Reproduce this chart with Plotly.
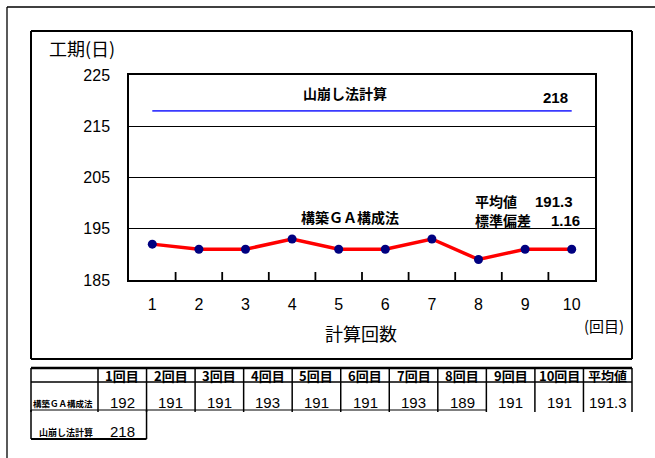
import numpy as np
import plotly.graph_objects as go

# --- data -------------------------------------------------------------
runs = ["1", "2", "3", "4", "5", "6", "7", "8", "9", "10"]
ga_days = [192, 191, 191, 193, 191, 191, 193, 189, 191, 191]
yama_days = 218
y_ticks = [185, 195, 205, 215, 225]
header_labels = ["1回目", "2回目", "3回目", "4回目", "5回目", "6回目",
                 "7回目", "8回目", "9回目", "10回目", "平均値"]
row_labels = ["構築ＧＡ構成法", "山崩し法計算"]

ga_mean = float(np.mean(ga_days))
ga_std = float(np.std(ga_days, ddof=1))

# --- geometry (pixels) -------------------------------------------------
W, H = 655, 458
PL, PR, PT, PB = 129, 595, 75, 280   # plot area


def px(x):
    return (x - PL) / (PR - PL)


def py(y):
    return (PB - y) / (PB - PT)


JP = "Noto Sans CJK JP"
NUM = "Liberation Sans"

fig = go.Figure()

fig.add_trace(go.Scatter(
    x=[runs[0], runs[-1]], y=[yama_days, yama_days],
    mode="lines", line=dict(color="#3a3aff", width=1.6),
    hoverinfo="skip", showlegend=False))

fig.add_trace(go.Scatter(
    x=runs, y=ga_days, mode="lines+markers",
    line=dict(color="#ff0000", width=3.5),
    marker=dict(color="#000080", size=9),
    showlegend=False))

shapes = []


def line(x0, y0, x1, y1, w=1.5, color="black"):
    shapes.append(dict(type="line", xref="paper", yref="paper",
                       x0=px(x0), y0=py(y0), x1=px(x1), y1=py(y1),
                       line=dict(color=color, width=w), layer="above"))


# frames around the chart
line(7, 7, 660, 7, 1.3)
line(7, 7, 7, 470, 1.3)
line(31, 31, 632, 31, 2)
line(31, 359, 632, 359, 2)
line(31, 31, 31, 359, 2)
line(632, 31, 632, 359, 2)

# short category-boundary ticks rising from the x axis
n = len(runs)
for i in range(1, n):
    xb = PL + (PR - PL) * i / n
    line(xb, PB + 1, xb, PB - 8, 1.8)

annotations = []


def text(x, y, s, size, font=JP, bold=False, xanchor="center", yanchor="middle"):
    annotations.append(dict(
        xref="paper", yref="paper", x=px(x), y=py(y), text=f"<b>{s}</b>" if bold else s,
        showarrow=False, xanchor=xanchor, yanchor=yanchor,
        font=dict(family=font, size=size, color="black")))


# chart labels
text(47, 48, "工期(日)", 18, xanchor="left")
text(361, 333, "計算回数", 18)
text(604, 325, "(回目)", 15)
text(345, 93, row_labels[1], 14, bold=True)
text(555, 97, str(yama_days), 15, font=NUM, bold=True)
text(350, 217, row_labels[0], 14, bold=True)
text(473, 201, "平均値", 14, bold=True, xanchor="left")
text(575, 201, f"{ga_mean:.1f}", 15, font=NUM, bold=True, xanchor="right")
text(473, 220, "標準偏差", 14, bold=True, xanchor="left")
text(582, 220, f"{ga_std:.2f}", 15, font=NUM, bold=True, xanchor="right")

# --- table below the chart ---------------------------------------------
TL, TR = 31, 632
first_w = 67
col_edges = [TL, TL + first_w] + [TL + first_w + (TR - TL - first_w) * (i + 1) / len(header_labels)
                                  for i in range(len(header_labels))]
r0, r1, r2, r3 = 368, 382, 410, 439

line(TL, r0, TR, r0, 2.5)
line(TL, r1, TR, r1, 1.5)
line(TL, r2, col_edges[9], r2, 1.2)
for i, xe in enumerate(col_edges):
    line(xe, r0, xe, r2 + 2, 1.5)
line(TL, r2, TL, r3, 1.5)
line(col_edges[2], r2, col_edges[2], r3, 1.5)
line(TL, r3, col_edges[2], r3, 2)

ga_row = [str(v) for v in ga_days] + [f"{ga_mean:.1f}"]
for i, lab in enumerate(header_labels):
    cx = (col_edges[i + 1] + col_edges[i + 2]) / 2
    text(cx, 375.5, lab, 13, bold=True)
    text(cx, 402, ga_row[i], 15, font=NUM)
text(95, 403, row_labels[0], 8.5, bold=True, xanchor="right")
text(95, 432, row_labels[1], 9, bold=True, xanchor="right")
text((col_edges[1] + col_edges[2]) / 2, 431, str(yama_days), 15, font=NUM)

fig.update_layout(
    width=W, height=H,
    margin=dict(l=PL, r=W - PR, t=PT, b=H - PB, pad=0),
    paper_bgcolor="white", plot_bgcolor="white",
    shapes=shapes, annotations=annotations,
    xaxis=dict(type="category", categoryorder="array", categoryarray=runs,
               range=[-0.5, len(runs) - 0.5], ticks="",
               showgrid=False, zeroline=False,
               showline=True, mirror=True, linecolor="black", linewidth=1.5,
               ticklabelstandoff=9, tickfont=dict(family=NUM, size=16, color="black")),
    yaxis=dict(range=[y_ticks[0], y_ticks[-1]], tickvals=y_ticks, ticks="",
               showgrid=True, gridcolor="black", gridwidth=1, zeroline=False,
               showline=True, mirror=True, linecolor="black", linewidth=1.5,
               ticklabelstandoff=14, tickfont=dict(family=NUM, size=16, color="black")),
)

fig.write_html("out.html")
